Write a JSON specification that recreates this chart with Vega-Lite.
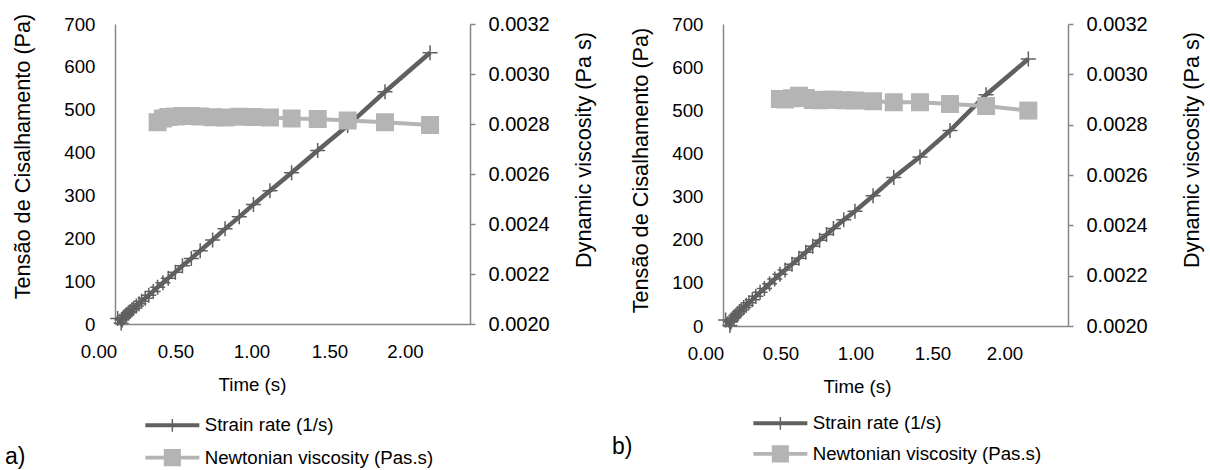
{
  "$schema": "https://vega.github.io/schema/vega-lite/v6.json",
  "background": "white",
  "padding": {"left": 5, "top": 13, "right": 5, "bottom": 3},
  "config": {"view": {"stroke": null}, "font": "Liberation Sans"},
  "datasets": {
    "A": [
      {"t": 0.015, "sr": 13}, {"t": 0.035, "sr": 2}, {"t": 0.04, "sr": 10}, {"t": 0.045, "sr": 14},
      {"t": 0.05, "sr": 16}, {"t": 0.058, "sr": 19}, {"t": 0.065, "sr": 22}, {"t": 0.075, "sr": 26},
      {"t": 0.085, "sr": 29}, {"t": 0.095, "sr": 33}, {"t": 0.105, "sr": 37}, {"t": 0.12, "sr": 42},
      {"t": 0.135, "sr": 47}, {"t": 0.15, "sr": 53}, {"t": 0.17, "sr": 60}, {"t": 0.19, "sr": 67},
      {"t": 0.215, "sr": 76},
      {"t": 0.24, "sr": 86, "nv": 0.002807}, {"t": 0.27, "sr": 96, "nv": 0.002822},
      {"t": 0.30, "sr": 107, "nv": 0.002828}, {"t": 0.34, "sr": 121, "nv": 0.00283},
      {"t": 0.38, "sr": 136, "nv": 0.002832}, {"t": 0.43, "sr": 153, "nv": 0.002832},
      {"t": 0.48, "sr": 171, "nv": 0.00283}, {"t": 0.55, "sr": 196, "nv": 0.002827},
      {"t": 0.62, "sr": 222, "nv": 0.002826}, {"t": 0.70, "sr": 250, "nv": 0.002829},
      {"t": 0.78, "sr": 279, "nv": 0.002828}, {"t": 0.873, "sr": 311, "nv": 0.002826},
      {"t": 0.995, "sr": 353, "nv": 0.002822}, {"t": 1.142, "sr": 405, "nv": 0.00282},
      {"t": 1.311, "sr": 463, "nv": 0.002814}, {"t": 1.521, "sr": 542, "nv": 0.002807},
      {"t": 1.775, "sr": 633, "nv": 0.002796}
    ],
    "B": [
      {"t": 0.015, "sr": 14}, {"t": 0.04, "sr": 1}, {"t": 0.045, "sr": 10}, {"t": 0.05, "sr": 14},
      {"t": 0.058, "sr": 18}, {"t": 0.065, "sr": 21}, {"t": 0.075, "sr": 25}, {"t": 0.085, "sr": 29},
      {"t": 0.095, "sr": 33}, {"t": 0.105, "sr": 37}, {"t": 0.12, "sr": 43}, {"t": 0.135, "sr": 48},
      {"t": 0.15, "sr": 54}, {"t": 0.17, "sr": 61}, {"t": 0.19, "sr": 69}, {"t": 0.215, "sr": 78},
      {"t": 0.24, "sr": 87}, {"t": 0.27, "sr": 98}, {"t": 0.30, "sr": 109},
      {"t": 0.33, "sr": 120, "nv": 0.002902}, {"t": 0.36, "sr": 130, "nv": 0.0029},
      {"t": 0.40, "sr": 143, "nv": 0.002905}, {"t": 0.44, "sr": 157, "nv": 0.002915},
      {"t": 0.48, "sr": 171, "nv": 0.002906}, {"t": 0.52, "sr": 185, "nv": 0.002898},
      {"t": 0.56, "sr": 199, "nv": 0.002897}, {"t": 0.60, "sr": 212, "nv": 0.002899},
      {"t": 0.64, "sr": 226, "nv": 0.002899}, {"t": 0.70, "sr": 246, "nv": 0.002897},
      {"t": 0.765, "sr": 266, "nv": 0.002896}, {"t": 0.87, "sr": 302, "nv": 0.002893},
      {"t": 0.99, "sr": 344, "nv": 0.002889}, {"t": 1.142, "sr": 392, "nv": 0.002889},
      {"t": 1.316, "sr": 453, "nv": 0.002882}, {"t": 1.525, "sr": 536, "nv": 0.002874},
      {"t": 1.77, "sr": 619, "nv": 0.002856}
    ]
  },
  "bounds": "flush",
  "spacing": 253,
  "resolve": {"scale": {"color": "independent", "shape": "independent"}, "legend": {"color": "independent", "shape": "independent"}},
  "hconcat": [
    {
      "width": 355, "height": 300,
      "data": {"name": "A"},
      "title": {"text": "a)", "orient": "bottom", "anchor": "start", "frame": "group", "dx": -110, "offset": -22, "fontSize": 23, "fontWeight": "normal", "font": "Liberation Sans", "color": "black"},
      "encoding": {
        "x": {"field": "t", "type": "quantitative", "scale": {"domain": [0, 2], "nice": false},
          "axis": {"values": [0, 0.5, 1, 1.5, 2], "format": ".2f", "ticks": false, "tickSize": 0, "grid": false,
            "domainColor": "#868686", "domainWidth": 1.5, "labelFont": "Liberation Sans", "labelFontSize": 18.7, "labelColor": "black",
            "labelPadding": 18, "labelFlush": false, "labelOverlap": false,
            "labelOffset": {"condition": [
              {"test": "datum.value == 0", "value": -16.5},
              {"test": "datum.value == 0.5", "value": -28.25},
              {"test": "datum.value == 1", "value": -41},
              {"test": "datum.value == 1.5", "value": -51.75}], "value": -65},
            "title": "Time (s)", "titleFont": "Liberation Sans", "titleFontSize": 18.7, "titleFontWeight": "normal", "titleColor": "black",
            "titlePadding": 15, "titleX": 137}}
      },
      "layer": [
        {
          "encoding": {
            "y": {"field": "sr", "type": "quantitative", "scale": {"domain": [0, 700], "nice": false},
              "axis": {"orient": "left", "values": [0, 100, 200, 300, 400, 500, 600, 700], "ticks": false, "tickSize": 0, "grid": false,
                "domainColor": "#868686", "domainWidth": 1.5, "labelFont": "Liberation Sans", "labelFontSize": 18.7, "labelColor": "black",
                "labelPadding": 20, "labelFlush": false, "labelOverlap": false,
                "title": "Tensão de Cisalhamento (Pa)", "titleFont": "Liberation Sans", "titleFontSize": 21.7, "titleFontWeight": "normal", "titleColor": "black",
                "titleX": -93, "titleY": 132, "titleBaseline": "middle", "titleAngle": 270}}
          },
          "layer": [
            {"mark": {"type": "line", "color": "#606060", "strokeWidth": 4.5}},
            {"mark": {"type": "point", "shape": "M-1,0H1M0,-1V1", "filled": false, "color": "#606060", "strokeWidth": 1.5, "size": 225, "opacity": 1}}
          ]
        },
        {
          "transform": [{"filter": "isValid(datum.nv)"}],
          "encoding": {
            "y": {"field": "nv", "type": "quantitative", "scale": {"domain": [0.002, 0.0032], "nice": false, "zero": false},
              "axis": {"orient": "right", "values": [0.002, 0.0022, 0.0024, 0.0026, 0.0028, 0.003, 0.0032], "format": ".4f",
                "ticks": true, "tickSize": 5, "tickColor": "#868686", "tickWidth": 1.5, "grid": false,
                "domainColor": "#868686", "domainWidth": 1.5, "labelFont": "Liberation Sans", "labelFontSize": 20, "labelColor": "black",
                "labelPadding": 13, "labelFlush": false, "labelOverlap": false,
                "title": "Dynamic viscosity (Pa s)", "titleFont": "Liberation Sans", "titleFontSize": 21.7, "titleFontWeight": "normal", "titleColor": "black",
                "titleX": 113, "titleY": 125.5, "titleBaseline": "middle", "titleAngle": 270}}
          },
          "layer": [
            {"mark": {"type": "line", "color": "#b4b4b4", "strokeWidth": 4}},
            {"mark": {"type": "point", "shape": "square", "filled": true, "color": "#b4b4b4", "size": 324, "opacity": 1}}
          ]
        },
        {
          "transform": [{"filter": "datum.t < 0"}],
          "mark": {"type": "point", "filled": true, "opacity": 1},
          "encoding": {
            "color": {"datum": "Strain rate (1/s)", "type": "nominal",
              "scale": {"domain": ["Strain rate (1/s)", "Newtonian viscosity (Pas.s)"], "range": ["#606060", "#b4b4b4"]},
              "legend": {"title": null, "orient": "none", "legendX": 48, "legendY": 392, "padding": 0, "symbolSize": 324, "symbolStrokeWidth": 0, "symbolOpacity": 1,
                "labelFont": "Liberation Sans", "labelFontSize": 18.7, "labelColor": "black", "labelOffset": 23, "rowPadding": 12.3, "labelLimit": 500}},
            "shape": {"datum": "Strain rate (1/s)", "type": "nominal",
              "scale": {"domain": ["Strain rate (1/s)", "Newtonian viscosity (Pas.s)"],
                "range": ["M-3,-0.22H3V0.22H-3Z M-0.08,-0.7H0.08V0.7H-0.08Z", "M-3,-0.2H3V0.2H-3Z M-0.95,-0.95H0.95V0.95H-0.95Z"]},
              "legend": {"title": null, "orient": "none", "legendX": 48, "legendY": 392, "padding": 0, "symbolSize": 324, "symbolStrokeWidth": 0, "symbolOpacity": 1,
                "labelFont": "Liberation Sans", "labelFontSize": 18.7, "labelColor": "black", "labelOffset": 23, "rowPadding": 12.3, "labelLimit": 500}}
          }
        }
      ],
      "resolve": {"scale": {"y": "independent"}}
    },
    {
      "width": 345, "height": 302,
      "data": {"name": "B"},
      "title": {"text": "b)", "orient": "bottom", "anchor": "start", "frame": "group", "dx": -111, "offset": -28, "fontSize": 23, "fontWeight": "normal", "font": "Liberation Sans", "color": "black"},
      "encoding": {
        "x": {"field": "t", "type": "quantitative", "scale": {"domain": [0, 2], "nice": false},
          "axis": {"values": [0, 0.5, 1, 1.5, 2], "format": ".2f", "ticks": false, "tickSize": 0, "grid": false,
            "domainColor": "#868686", "domainWidth": 1.5, "labelFont": "Liberation Sans", "labelFontSize": 18.7, "labelColor": "black",
            "labelPadding": 18, "labelFlush": false, "labelOverlap": false,
            "labelOffset": {"condition": [
              {"test": "datum.value == 0", "value": -17.5},
              {"test": "datum.value == 0.5", "value": -28.75},
              {"test": "datum.value == 1", "value": -40},
              {"test": "datum.value == 1.5", "value": -49.25}], "value": -63.5},
            "title": "Time (s)", "titleFont": "Liberation Sans", "titleFontSize": 18.7, "titleFontWeight": "normal", "titleColor": "black",
            "titlePadding": 15, "titleX": 134}}
      },
      "layer": [
        {
          "encoding": {
            "y": {"field": "sr", "type": "quantitative", "scale": {"domain": [0, 700], "nice": false},
              "axis": {"orient": "left", "values": [0, 100, 200, 300, 400, 500, 600, 700], "ticks": false, "tickSize": 0, "grid": false,
                "domainColor": "#868686", "domainWidth": 1.5, "labelFont": "Liberation Sans", "labelFontSize": 18.7, "labelColor": "black",
                "labelPadding": 20, "labelFlush": false, "labelOverlap": false,
                "title": "Tensão de Cisalhamento (Pa)", "titleFont": "Liberation Sans", "titleFontSize": 21.7, "titleFontWeight": "normal", "titleColor": "black",
                "titleX": -83, "titleY": 146, "titleBaseline": "middle", "titleAngle": 270}}
          },
          "layer": [
            {"mark": {"type": "line", "color": "#606060", "strokeWidth": 4.5}},
            {"mark": {"type": "point", "shape": "M-1,0H1M0,-1V1", "filled": false, "color": "#606060", "strokeWidth": 1.5, "size": 225, "opacity": 1}}
          ]
        },
        {
          "transform": [{"filter": "isValid(datum.nv)"}],
          "encoding": {
            "y": {"field": "nv", "type": "quantitative", "scale": {"domain": [0.002, 0.0032], "nice": false, "zero": false},
              "axis": {"orient": "right", "values": [0.002, 0.0022, 0.0024, 0.0026, 0.0028, 0.003, 0.0032], "format": ".4f",
                "ticks": true, "tickSize": 5, "tickColor": "#868686", "tickWidth": 1.5, "grid": false,
                "domainColor": "#868686", "domainWidth": 1.5, "labelFont": "Liberation Sans", "labelFontSize": 20, "labelColor": "black",
                "labelPadding": 13, "labelFlush": false, "labelOverlap": false,
                "title": "Dynamic viscosity (Pa s)", "titleFont": "Liberation Sans", "titleFontSize": 21.7, "titleFontWeight": "normal", "titleColor": "black",
                "titleX": 123, "titleY": 125.5, "titleBaseline": "middle", "titleAngle": 270}}
          },
          "layer": [
            {"mark": {"type": "line", "color": "#b4b4b4", "strokeWidth": 4}},
            {"mark": {"type": "point", "shape": "square", "filled": true, "color": "#b4b4b4", "size": 324, "opacity": 1}}
          ]
        },
        {
          "transform": [{"filter": "datum.t < 0"}],
          "mark": {"type": "point", "filled": true, "opacity": 1},
          "encoding": {
            "color": {"datum": "Strain rate (1/s)", "type": "nominal",
              "scale": {"domain": ["Strain rate (1/s)", "Newtonian viscosity (Pas.s)"], "range": ["#606060", "#b4b4b4"]},
              "legend": {"title": null, "orient": "none", "legendX": 48, "legendY": 390, "padding": 0, "symbolSize": 324, "symbolStrokeWidth": 0, "symbolOpacity": 1,
                "labelFont": "Liberation Sans", "labelFontSize": 18.7, "labelColor": "black", "labelOffset": 23, "rowPadding": 10.5, "labelLimit": 500}},
            "shape": {"datum": "Strain rate (1/s)", "type": "nominal",
              "scale": {"domain": ["Strain rate (1/s)", "Newtonian viscosity (Pas.s)"],
                "range": ["M-3,-0.22H3V0.22H-3Z M-0.08,-0.7H0.08V0.7H-0.08Z", "M-3,-0.2H3V0.2H-3Z M-0.95,-0.95H0.95V0.95H-0.95Z"]},
              "legend": {"title": null, "orient": "none", "legendX": 48, "legendY": 390, "padding": 0, "symbolSize": 324, "symbolStrokeWidth": 0, "symbolOpacity": 1,
                "labelFont": "Liberation Sans", "labelFontSize": 18.7, "labelColor": "black", "labelOffset": 23, "rowPadding": 10.5, "labelLimit": 500}}
          }
        }
      ],
      "resolve": {"scale": {"y": "independent"}}
    }
  ]
}
